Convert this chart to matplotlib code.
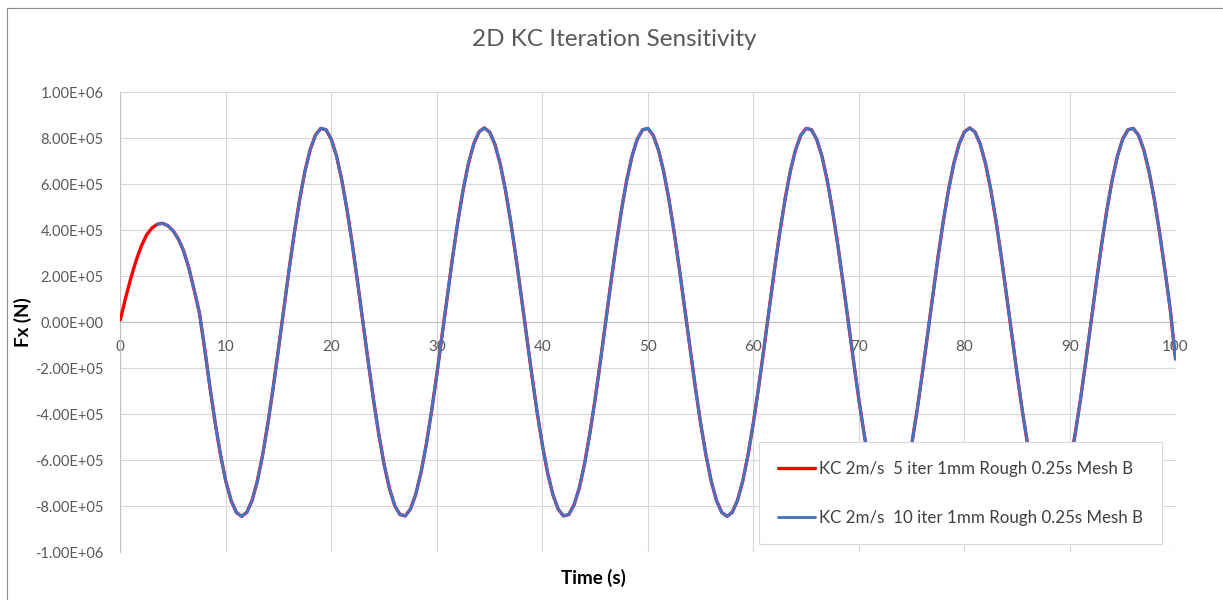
import matplotlib
matplotlib.use("Agg")
import matplotlib.pyplot as plt
import numpy as np
from matplotlib.ticker import FuncFormatter
from matplotlib.patches import Rectangle

plt.rcParams['font.family'] = ['Lato', 'DejaVu Sans']

# ---------------- data ----------------
title = "2D KC Iteration Sensitivity"
x_label = "Time (s)"
y_label = "Fx (N)"
series_names = ["KC 2m/s  5 iter 1mm Rough 0.25s Mesh B",
                "KC 2m/s  10 iter 1mm Rough 0.25s Mesh B"]

# sampling times (s), every 0.5 s from 0 to 100
time_s = np.arange(0, 100.5, 0.5)

# Fx of the 5-iteration run, in units of 1e5 N
fx_5iter_e5 = [
    0.10, 1.05, 1.92, 2.68, 3.32, 3.80, 4.10, 4.26, 4.30, 4.20,
    3.98, 3.62, 3.10, 2.35, 1.40, 0.40,
    -1.17, -2.85, -4.41, -5.78, -6.92, -7.76, -8.28, -8.45, -8.27, -7.74,
    -6.89, -5.75, -4.37, -2.81, -1.13, 0.60, 2.30, 3.91, 5.35, 6.57,
    7.51, 8.14, 8.43, 8.37, 7.95, 7.21, 6.16, 4.85, 3.35, 1.70,
    -0.02, -1.74, -3.39, -4.89, -6.19, -7.23, -7.97, -8.37, -8.43, -8.13,
    -7.49, -6.54, -5.32, -3.87, -2.26, -0.55, 1.17, 2.85, 4.41, 5.78,
    6.92, 7.76, 8.28, 8.45, 8.27, 7.74, 6.89, 5.75, 4.37, 2.81,
    1.13, -0.60, -2.30, -3.91, -5.35, -6.57, -7.51, -8.14, -8.43, -8.37,
    -7.95, -7.21, -6.16, -4.84, -3.35, -1.70, 0.02, 1.74, 3.39, 4.89,
    6.19, 7.23, 7.97, 8.37, 8.43, 8.13, 7.49, 6.54, 5.32, 3.87,
    2.26, 0.56,
    -1.17, -2.85, -4.41, -5.78, -6.92, -7.76, -8.28, -8.45, -8.27, -7.74,
    -6.89, -5.75, -4.37, -2.81, -1.13, 0.60, 2.30, 3.91, 5.35, 6.57,
    7.51, 8.14, 8.43, 8.37, 7.95, 7.21, 6.16, 4.85, 3.35, 1.70,
    -0.02, -1.74, -3.39, -4.89, -6.19, -7.23, -7.97, -8.37, -8.43, -8.13,
    -7.49, -6.54, -5.32, -3.87, -2.26, -0.55, 1.17, 2.85, 4.41, 5.78,
    6.92, 7.76, 8.28, 8.45, 8.27, 7.74, 6.89, 5.75, 4.37, 2.81,
    1.13, -0.60, -2.30, -3.91, -5.35, -6.57, -7.51, -8.14, -8.43, -8.37,
    -7.95, -7.21, -6.16, -4.84, -3.35, -1.70, 0.02, 1.74, 3.39, 4.89,
    6.19, 7.23, 7.97, 8.37, 8.43, 8.13, 7.49, 6.54, 5.32, 3.87,
    2.26, 0.56,
    -1.60,
]

# the 10-iteration run starts at t = 3.5 s and overlies the 5-iteration run
start_10iter_s = 3.5
fx_10iter_e5 = [
    4.26, 4.30, 4.20,
    3.98, 3.62, 3.10, 2.35, 1.40, 0.40,
    -1.17, -2.85, -4.41, -5.78, -6.92, -7.76, -8.28, -8.45, -8.27, -7.74,
    -6.89, -5.75, -4.37, -2.81, -1.13, 0.60, 2.30, 3.91, 5.35, 6.57,
    7.51, 8.14, 8.43, 8.37, 7.95, 7.21, 6.16, 4.85, 3.35, 1.70,
    -0.02, -1.74, -3.39, -4.89, -6.19, -7.23, -7.97, -8.37, -8.43, -8.13,
    -7.49, -6.54, -5.32, -3.87, -2.26, -0.55, 1.17, 2.85, 4.41, 5.78,
    6.92, 7.76, 8.28, 8.45, 8.27, 7.74, 6.89, 5.75, 4.37, 2.81,
    1.13, -0.60, -2.30, -3.91, -5.35, -6.57, -7.51, -8.14, -8.43, -8.37,
    -7.95, -7.21, -6.16, -4.84, -3.35, -1.70, 0.02, 1.74, 3.39, 4.89,
    6.19, 7.23, 7.97, 8.37, 8.43, 8.13, 7.49, 6.54, 5.32, 3.87,
    2.26, 0.56,
    -1.17, -2.85, -4.41, -5.78, -6.92, -7.76, -8.28, -8.45, -8.27, -7.74,
    -6.89, -5.75, -4.37, -2.81, -1.13, 0.60, 2.30, 3.91, 5.35, 6.57,
    7.51, 8.14, 8.43, 8.37, 7.95, 7.21, 6.16, 4.85, 3.35, 1.70,
    -0.02, -1.74, -3.39, -4.89, -6.19, -7.23, -7.97, -8.37, -8.43, -8.13,
    -7.49, -6.54, -5.32, -3.87, -2.26, -0.55, 1.17, 2.85, 4.41, 5.78,
    6.92, 7.76, 8.28, 8.45, 8.27, 7.74, 6.89, 5.75, 4.37, 2.81,
    1.13, -0.60, -2.30, -3.91, -5.35, -6.57, -7.51, -8.14, -8.43, -8.37,
    -7.95, -7.21, -6.16, -4.84, -3.35, -1.70, 0.02, 1.74, 3.39, 4.89,
    6.19, 7.23, 7.97, 8.37, 8.43, 8.13, 7.49, 6.54, 5.32, 3.87,
    2.26, 0.56,
    -1.60,
]

x_ticks = list(range(0, 101, 10))
y_ticks = [-1.0e6, -8.0e5, -6.0e5, -4.0e5, -2.0e5, 0.0, 2.0e5, 4.0e5, 6.0e5, 8.0e5, 1.0e6]

# ---------------- figure ----------------
W, H = 1223, 600
fig = plt.figure(figsize=(W / 100, H / 100), dpi=100)
fig.patch.set_facecolor("white")

left_px, right_px, top_px, bottom_px = 120.3, 1175.5, 92.3, 552.0
ax = fig.add_axes([left_px / W, 1 - bottom_px / H,
                   (right_px - left_px) / W, (bottom_px - top_px) / H])

fx5 = np.array(fx_5iter_e5) * 1e5
fx10 = np.array(fx_10iter_e5) * 1e5
t10 = time_s[time_s >= start_10iter_s]

ax.plot(time_s, fx5, color="#FF0000", lw=2.4, solid_capstyle="round",
        solid_joinstyle="round", label=series_names[0], zorder=3)
ax.plot(t10, fx10, color="#4472C4", lw=2.05, solid_capstyle="round",
        solid_joinstyle="round", label=series_names[1], zorder=4)

ax.set_xlim(0, 100)
ax.set_ylim(-1e6, 1e6)
ax.set_xticks(x_ticks)
ax.set_yticks(y_ticks)
ax.yaxis.set_major_formatter(FuncFormatter(lambda v, p: f"{v:.2E}"))

ax.grid(True, color="#d9d9d9", lw=0.8, zorder=0)
ax.set_axisbelow(True)
for s in ["top", "right"]:
    ax.spines[s].set_visible(False)
ax.spines["bottom"].set_position(("data", 0))
ax.spines["bottom"].set_color("#bfbfbf")
ax.spines["bottom"].set_linewidth(0.8)
ax.spines["left"].set_color("#bfbfbf")
ax.spines["left"].set_linewidth(0.8)

ax.tick_params(axis="both", length=0, colors="#595959", labelsize=10.5)
ax.tick_params(axis="x", pad=13, labelsize=11)
ax.tick_params(axis="y", pad=12)

# titles
fig.text(614 / W, 1 - 40 / H, title, ha="center", va="center",
         fontsize=17.5, color="#595959")
fig.text(593 / W, 1 - 578 / H, x_label, ha="center", va="center",
         fontsize=13.5, fontweight="bold", color="#000000")
fig.text(23 / W, 1 - 322 / H, y_label, ha="center", va="center",
         rotation=90, fontsize=13.5, fontweight="bold", color="#000000")

leg = ax.legend(loc="upper left", bbox_to_anchor=(759 / W, 1 - 442 / H),
                bbox_transform=fig.transFigure, frameon=True, fancybox=False,
                edgecolor="#d9d9d9", facecolor="white", framealpha=1,
                fontsize=12.2, handlelength=2.2, handletextpad=0.25,
                borderpad=1.1, labelspacing=1.95, borderaxespad=0)
leg.get_frame().set_linewidth(0.8)
for txt in leg.get_texts():
    txt.set_color("#404040")
leg.set_zorder(10)

# outer chart border
fig.add_artist(Rectangle((7 / W, -0.05), 1.0, 1.05 - 8 / H, transform=fig.transFigure,
                         fill=False, edgecolor="#8c8c8c", lw=0.8))

fig.savefig("out.png", dpi=100, facecolor="white")
